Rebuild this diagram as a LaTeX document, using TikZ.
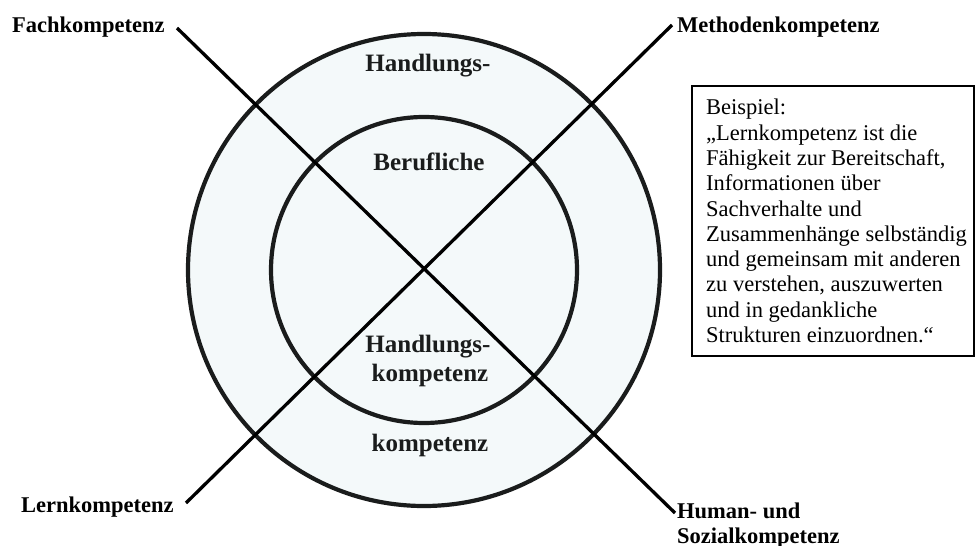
\documentclass[tikz,border=0pt]{standalone}
\usepackage{fontspec}
\setmainfont{Liberation Serif}
\definecolor{ringfill}{RGB}{244,249,250}
\definecolor{ringline}{RGB}{26,28,28}
\begin{document}
\begin{tikzpicture}[x=1pt,y=-1pt,
  ring/.style={circle,draw=ringline,line width=4.2pt,fill=ringfill,inner sep=0pt},
  spoke/.style={draw=black,line width=3.3pt},
  lbl/.style={font=\fontsize{22.5}{25}\selectfont\bfseries,inner sep=0pt,anchor=base west},
  core/.style={font=\fontsize{25}{29}\selectfont\bfseries,inner sep=0pt,anchor=base,text=ringline},
  notebox/.style={draw=black,line width=1.4pt,minimum width=282pt,minimum height=270pt,inner sep=0pt},
  notetext/.style={font=\fontsize{22.5}{25.3}\selectfont,inner sep=0pt,anchor=west,align=left}]
\useasboundingbox (0,0) rectangle (975,546);
% circles
\node[ring,minimum size=472pt] (outer) at (424,270) {};
\node[ring,minimum size=306pt] (inner) at (424,270) {};
% spokes
\coordinate (fk) at (177,28);
\coordinate (hs) at (675,513);
\coordinate (mk) at (672,25);
\coordinate (lk) at (186,503);
\draw[spoke] (fk) -- (hs);
\draw[spoke] (mk) -- (lk);
% ring texts
\node[core] (t1) at (428,71) {Handlungs-};
\node[core] (t2) at (429,170) {Berufliche};
\node[core] (t3) at (428,352) {Handlungs-};
\node[core] (t4) at (430,381.5) {kompetenz};
\node[core] (t5) at (430,451.5) {kompetenz};
% outer labels
\node[lbl] (l1) at (12,32) {Fachkompetenz};
\node[lbl] (l2) at (677,32) {Methodenkompetenz};
\node[lbl] (l3) at (21,512) {Lernkompetenz};
\node[lbl] (l4) at (677,518) {Human- und};
\node[lbl] (l5) at (677,543) {Sozialkompetenz};
% note box
\node[notebox] (box) at (833,221) {};
\node[notetext] (note) at (706,221) {Beispiel:\\„Lernkompetenz ist die\\Fähigkeit zur Bereitschaft,\\Informationen über\\Sachverhalte und\\Zusammenhänge selbständig\\und gemeinsam mit anderen\\zu verstehen, auszuwerten\\und in gedankliche\\Strukturen einzuordnen.“};
\end{tikzpicture}
\end{document}
